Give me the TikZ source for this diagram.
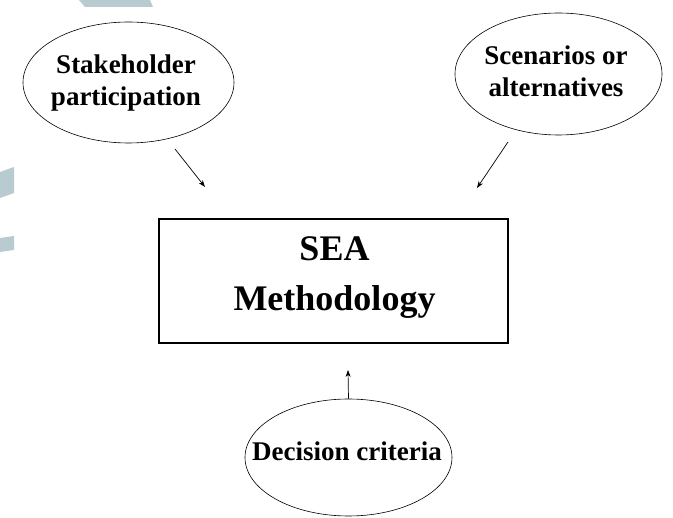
\documentclass[tikz,border=0pt]{standalone}
\usepackage{fontspec}
\setmainfont{Liberation Serif}
\usetikzlibrary{shapes.geometric,arrows.meta}
\definecolor{wm}{RGB}{183,203,209}
\tikzset{
  bubble/.style={draw=black, line width=0.6pt, ellipse, inner sep=0pt},
  btext/.style={align=center, font=\fontsize{27}{32}\selectfont\bfseries, inner sep=0pt},
  mainbox/.style={draw=black, line width=1.6pt, minimum width=349pt, minimum height=124pt, inner sep=0pt},
  mtext/.style={align=center, font=\fontsize{36}{50}\selectfont\bfseries, inner sep=0pt},
  arr/.style={line width=0.7pt, -{Stealth[length=7pt,width=5pt]}},
  wmark/.style={fill=wm, draw=none}
}
\begin{document}
\begin{tikzpicture}[x=1pt,y=-1pt]
\useasboundingbox (0,0) rectangle (673,518);
\clip (0,0) rectangle (673,518);
% watermark shapes
\fill[wmark] (79,0) -- (150,0) -- (153,7) -- (85,7) -- cycle;
\fill[wmark] (0,172) -- (14,167) -- (14,193) -- (0,198) -- cycle;
\fill[wmark] (0,238) -- (14,236) -- (14,250) -- (0,252) -- cycle;
% shapes
\node[bubble, minimum width=211pt, minimum height=121pt] (sh) at (128.5,82.5) {};
\node[bubble, minimum width=207pt, minimum height=122pt] (sc) at (558.5,74) {};
\node[bubble, minimum width=207pt, minimum height=117pt] (dc) at (348.5,457.5) {};
\node[mainbox] (box) at (333.5,281) {};
% texts
\node[btext] (sht) at (126,83) {Stakeholder\\participation};
\node[btext] (sct) at (556,71) {Scenarios or\\alternatives};
\node[btext] (dct) at (347,451) {Decision criteria};
\node[mtext] (boxt) at (334.5,278) {SEA\\Methodology};
% connector endpoints
\coordinate (a1s) at (175,149);
\coordinate (a1e) at (205,187);
\coordinate (a2s) at (508,142);
\coordinate (a2e) at (477,188);
\coordinate (a3e) at (348,370);
\draw[arr] (a1s) -- (a1e);
\draw[arr] (a2s) -- (a2e);
\draw[arr] (dc.north) -- (a3e);
\end{tikzpicture}
\end{document}
